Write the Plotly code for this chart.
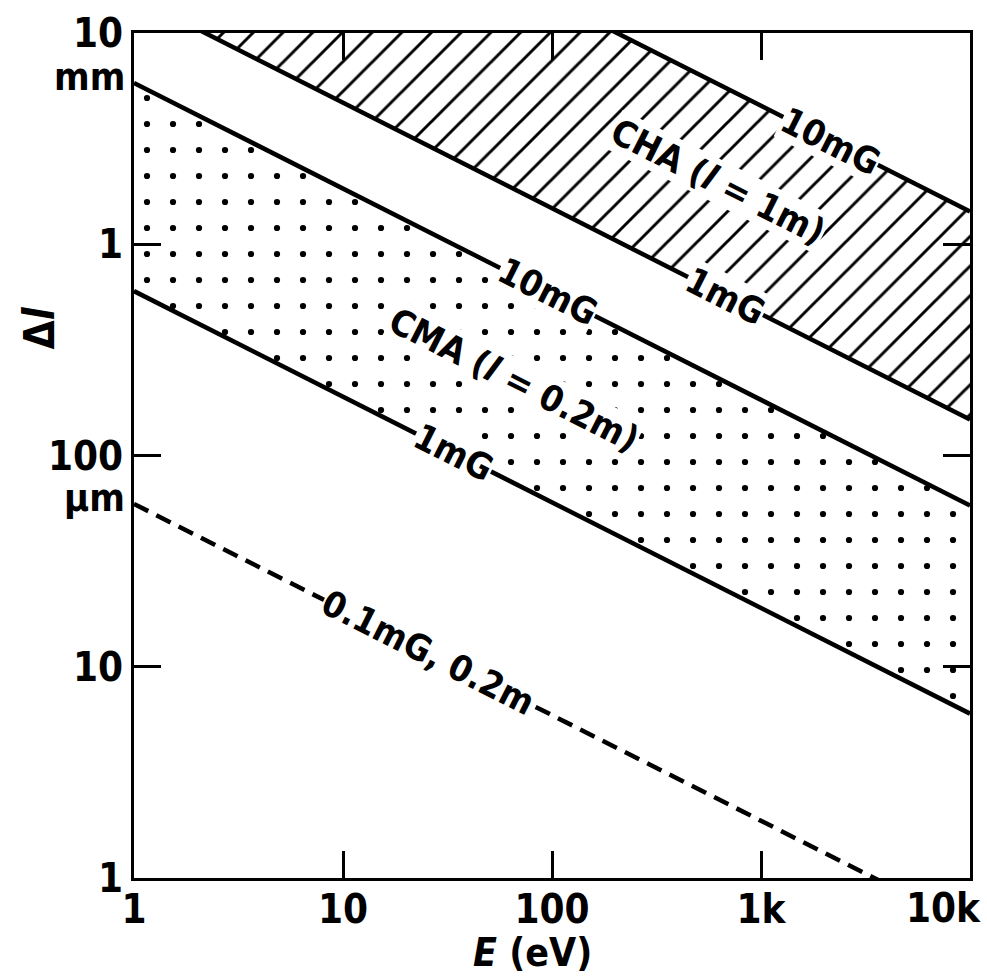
import plotly.graph_objects as go

# ---- data ----
E = [1, 10, 100, 1000, 10000]                      # energy, eV
cha_10mG = [143000, 45200, 14300, 4520, 1430]      # Δl in µm, CHA (l=1m), 10 mG
cha_1mG = [14800, 4680, 1480, 468, 148]            # CHA (l=1m), 1 mG
cma_10mG = [5800, 1830, 580, 183, 58]              # CMA (l=0.2m), 10 mG
cma_1mG = [600, 190, 60, 19, 6]                    # CMA (l=0.2m), 1 mG
cma_01mG = [59, 18.7, 5.9, 1.87, 0.59]             # 0.1 mG, 0.2 m (dashed)

x_tickvals = [1, 10, 100, 1000, 10000]
x_ticktext = ["1", "10", "100", "1k", "10k"]
y_tickvals = [1, 10, 100, 1000, 10000]
y_ticktext = ["1", "10", "100", "1", "10"]

FONT = "DejaVu Sans Condensed, DejaVu Sans, sans-serif"
LW = 4.5

fig = go.Figure()

# CHA band (hatched)
fig.add_trace(go.Scatter(x=E, y=cha_1mG, mode="lines",
                         line=dict(color="black", width=LW), showlegend=False))
fig.add_trace(go.Scatter(x=E, y=cha_10mG, mode="lines",
                         line=dict(color="black", width=LW), fill="tonexty",
                         fillcolor="white",
                         fillpattern=dict(shape="/", fgcolor="black", bgcolor="white",
                                          fgopacity=1, size=21, solidity=0.14),
                         showlegend=False))
# CMA band (dotted)
fig.add_trace(go.Scatter(x=E, y=cma_1mG, mode="lines",
                         line=dict(color="black", width=LW), showlegend=False))
fig.add_trace(go.Scatter(x=E, y=cma_10mG, mode="lines",
                         line=dict(color="black", width=LW), fill="tonexty",
                         fillcolor="white",
                         fillpattern=dict(shape=".", fgcolor="black", bgcolor="white",
                                          fgopacity=1, size=26, solidity=0.045),
                         showlegend=False))
# dashed 0.1 mG
fig.add_trace(go.Scatter(x=E, y=cma_01mG, mode="lines",
                         line=dict(color="black", width=LW, dash="16px,9px"),
                         showlegend=False))

tick_font = dict(family=FONT, size=40, color="black", weight="bold")
axis_common = dict(type="log", showline=True, linecolor="black", linewidth=3,
                   mirror="ticks", ticks="inside", ticklen=27, tickwidth=3,
                   tickcolor="black", showgrid=False, zeroline=False,
                   tickfont=tick_font, automargin=False)

# the last x tick label sits left of its tick (as in the reference), so it is
# drawn as an annotation at that tick value; the axis draws the others
fig.update_xaxes(range=[0, 4], tickvals=x_tickvals,
                 ticktext=x_ticktext[:-1] + [""],
                 ticklabelstandoff=-6, **axis_common)
fig.update_yaxes(range=[0, 4], tickvals=y_tickvals, ticktext=y_ticktext, **axis_common)

fig.add_annotation(x=4, y=-0.0355, xref="x", yref="paper", text=x_ticktext[-1],
                   showarrow=False, xanchor="right", yanchor="middle", xshift=13,
                   font=tick_font)

ANG = 26.8
lab_font = dict(family=FONT, size=36, color="black", weight="bold")
line_labels = [
    (3.334, 3.488, "10mG"),
    (2.793, 3.295, "CHA (<i>l</i> = 1m)"),
    (2.832, 2.754, "1mG"),
    (1.979, 2.774, "10mG"),
    (1.816, 2.358, "CMA (<i>l</i> = 0.2m)"),
    (1.529, 2.013, "1mG"),
    (1.409, 1.068, "0.1mG, 0.2m"),
]
for lx, ly, txt in line_labels:
    fig.add_annotation(x=lx, y=ly, xref="x", yref="y", text=txt, showarrow=False,
                       textangle=ANG, font=lab_font, bgcolor="white", borderpad=0)

# unit labels under tick labels
fig.add_annotation(x=-0.008, y=3.79, xref="paper", yref="y", text="mm",
                   showarrow=False, xanchor="right", yanchor="middle",
                   font=dict(family=FONT, size=38, color="black", weight="bold"))
fig.add_annotation(x=-0.008, y=1.80, xref="paper", yref="y", text="µm",
                   showarrow=False, xanchor="right", yanchor="middle",
                   font=dict(family=FONT, size=38, color="black", weight="bold"))
# axis titles
fig.add_annotation(x=-0.113, y=2.604, xref="paper", yref="y", text="Δ<i>l</i>",
                   showarrow=False, textangle=-90, xanchor="center", yanchor="middle",
                   font=dict(family=FONT, size=42, color="black", weight="bold"))
fig.add_annotation(x=1.907, y=-0.088, xref="x", yref="paper", text="<i>E</i> (eV)",
                   showarrow=False, xanchor="center", yanchor="middle",
                   font=dict(family=FONT, size=39, color="black", weight="bold"))

fig.update_layout(width=987, height=979, plot_bgcolor="white", paper_bgcolor="white",
                  margin=dict(l=134, r=17, t=33, b=101), showlegend=False)

fig.write_html("out.html", config={"displayModeBar": False},
               post_script="document.body.style.margin='0';")
